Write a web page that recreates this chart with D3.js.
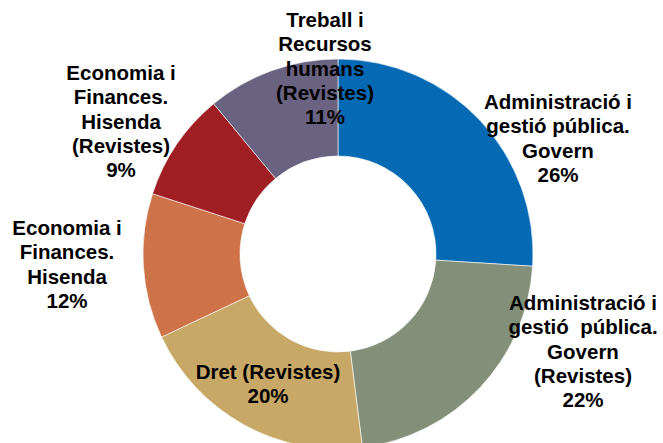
<!DOCTYPE html>
<html>
<head>
<meta charset="utf-8">
<script src="https://cdn.jsdelivr.net/npm/d3@7"></script>
<style>
  body { margin: 0; background: #fff; }
  text { white-space: pre; }
</style>
</head>
<body>
<div id="chart"></div>
<script>
"use strict";

// Dades del gràfic
var categories = [
  ["Administració i", "gestió pública.", "Govern"],
  ["Administració i", "gestió  pública.", "Govern", "(Revistes)"],
  ["Dret (Revistes)"],
  ["Economia i", "Finances.", "Hisenda"],
  ["Economia i", "Finances.", "Hisenda", "(Revistes)"],
  ["Treball i", "Recursos", "humans", "(Revistes)"]
];
var values = [26, 22, 20, 12, 9, 11];
var colors = ["#0569b3", "#838f78", "#c8a866", "#cd7249", "#a01f25", "#6a6281"];

// Posició de cada etiqueta (centre, línia base de la primera línia)
var labelPos = [[558, 109], [583, 310], [268, 379], [67, 235], [121, 80], [325, 27]];

var larg = 663, haut = 443;
var cx = 338, cy = 254;
var rExt = 195, rInt = 98;
var lineH = 24.3;

var svg = d3.select("#chart")
  .append("svg")
  .attr("width", larg)
  .attr("height", haut)
  .attr("viewBox", "0 0 " + larg + " " + haut);

var pie = d3.pie().sort(null).value(function(d){ return d; });
var arc = d3.arc().innerRadius(rInt).outerRadius(rExt);

var g = svg.append("g").attr("transform", "translate(" + cx + "," + cy + ")");

g.selectAll("path")
  .data(pie(values))
  .enter()
  .append("path")
  .attr("d", arc)
  .attr("fill", function(d, i){ return colors[i]; })
  .attr("stroke", "#ffffff")
  .attr("stroke-width", 0.6);

// Etiquetes
var labels = svg.selectAll("text.lab")
  .data(categories)
  .enter()
  .append("text")
  .attr("class", "lab")
  .attr("x", function(d, i){ return labelPos[i][0]; })
  .attr("y", function(d, i){ return labelPos[i][1]; })
  .attr("text-anchor", "middle")
  .attr("font-family", "'Liberation Sans', Arial, sans-serif")
  .attr("font-weight", "bold")
  .attr("font-size", "20.5px")
  .attr("fill", "#000");

labels.each(function(d, i){
  var t = d3.select(this);
  var lines = d.concat([values[i] + "%"]);
  lines.forEach(function(l, j){
    t.append("tspan")
      .attr("x", labelPos[i][0])
      .attr("dy", j === 0 ? 0 : lineH)
      .text(l);
  });
});
</script>
</body>
</html>
